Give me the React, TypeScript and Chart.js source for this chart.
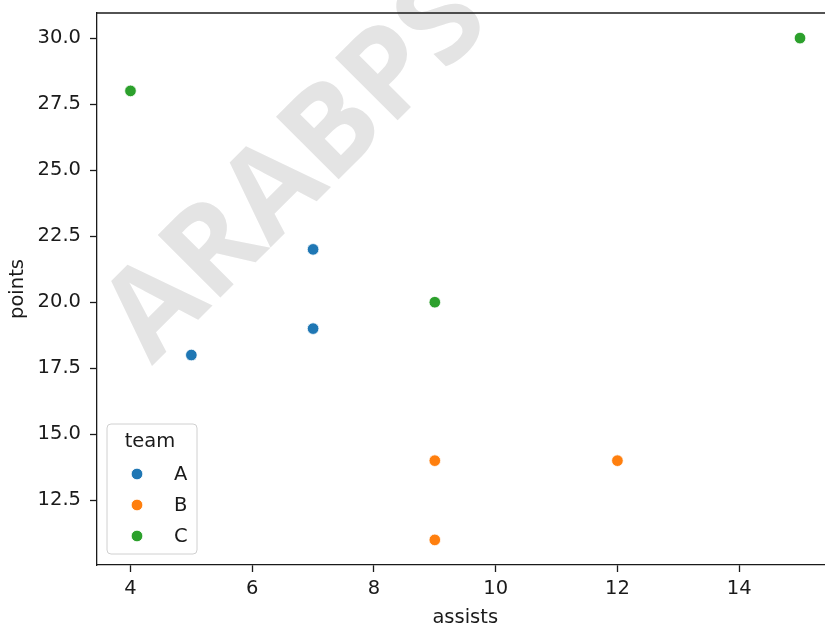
import { useEffect, useRef } from 'react';
import { Chart, registerables } from 'chart.js';

Chart.register(...registerables);

const teams = ['A', 'B', 'C'];
const teamColors = ['#1f77b4', '#ff7f0e', '#2ca02c'];
const assistsA = [5, 7, 7];
const pointsA = [18, 19, 22];
const assistsB = [9, 9, 12];
const pointsB = [14, 11, 14];
const assistsC = [9, 4, 15];
const pointsC = [20, 28, 30];
const xTicks = [4, 6, 8, 10, 12, 14];
const yTicks = [12.5, 15, 17.5, 20, 22.5, 25, 27.5, 30];
const xTitle = 'assists';
const yTitle = 'points';
const legendTitle = 'team';
const watermark = 'ARABPS';

const FONT = 'DejaVu Sans';
const FS = 19.5;
const INK = '#1a1a1a';

export default function App() {
  const ref = useRef<HTMLCanvasElement | null>(null);

  useEffect(() => {
    if (!ref.current) return;
    const xs = [assistsA, assistsB, assistsC];
    const ys = [pointsA, pointsB, pointsC];
    const datasets = teams.map((t, i) => ({
      label: t,
      data: xs[i].map((x, j) => ({ x, y: ys[i][j] })),
      backgroundColor: teamColors[i],
      borderColor: '#ffffff',
      borderWidth: 0.8,
      pointRadius: 5.8,
      pointHoverRadius: 5.8,
    }));

    const watermarkPlugin = {
      id: 'watermark',
      beforeDatasetsDraw(chart: any) {
        const ctx = chart.ctx;
        ctx.save();
        ctx.translate(152, 366);
        ctx.rotate(-Math.PI / 4);
        ctx.font = `bold 124px "Open Sans"`;
        ctx.fillStyle = '#e4e4e4';
        ctx.textAlign = 'left';
        ctx.textBaseline = 'alphabetic';
        ctx.fillText(watermark, 0, 0);
        ctx.restore();
      },
    };

    const framePlugin = {
      id: 'frame',
      afterDraw(chart: any) {
        const ctx = chart.ctx;
        const a = chart.chartArea;
        ctx.save();
        ctx.fillStyle = '#ffffff';
        ctx.fillRect(815, a.top + 2, 40, a.bottom - a.top - 4);
        ctx.strokeStyle = INK;
        ctx.lineWidth = 1.3;
        ctx.beginPath();
        ctx.moveTo(a.left, a.top);
        ctx.lineTo(a.right, a.top);
        ctx.stroke();
        ctx.restore();

        // legend
        const bx = 107, by = 424, bw = 90, bh = 130, r = 4;
        ctx.save();
        ctx.beginPath();
        ctx.moveTo(bx + r, by);
        ctx.arcTo(bx + bw, by, bx + bw, by + bh, r);
        ctx.arcTo(bx + bw, by + bh, bx, by + bh, r);
        ctx.arcTo(bx, by + bh, bx, by, r);
        ctx.arcTo(bx, by, bx + bw, by, r);
        ctx.closePath();
        ctx.fillStyle = 'rgba(255,255,255,0.8)';
        ctx.fill();
        ctx.strokeStyle = '#d0d0d0';
        ctx.lineWidth = 1;
        ctx.stroke();
        ctx.font = `${FS}px "${FONT}"`;
        ctx.fillStyle = INK;
        ctx.textBaseline = 'middle';
        ctx.textAlign = 'center';
        ctx.fillText(legendTitle, 150, 442);
        ctx.textAlign = 'left';
        chart.data.datasets.forEach((ds: any, i: number) => {
          const cy = 474 + i * 31;
          ctx.beginPath();
          ctx.arc(137, cy, 5.8, 0, Math.PI * 2);
          ctx.fillStyle = ds.backgroundColor;
          ctx.fill();
          ctx.strokeStyle = '#ffffff';
          ctx.lineWidth = 0.8;
          ctx.stroke();
          ctx.fillStyle = INK;
          ctx.fillText(ds.label, 174, cy + 1);
        });
        ctx.restore();
      },
    };

    const chart = new Chart(ref.current, {
      type: 'scatter',
      data: { datasets },
      plugins: [watermarkPlugin, framePlugin],
      options: {
        animation: false,
        responsive: false,
        layout: { padding: { top: 13, right: 11.5, left: 0, bottom: 0 } },
        plugins: { legend: { display: false }, tooltip: { enabled: false } },
        scales: {
          x: {
            type: 'linear',
            min: 3.45,
            max: 15.55,
            afterBuildTicks: (s: any) => {
              s.ticks = xTicks.map((v) => ({ value: v }));
            },
            afterFit: (s: any) => {
              s.height = 63;
              s.paddingLeft = 0;
              s.paddingRight = 0;
            },
            ticks: {
              font: { family: FONT, size: FS },
              color: INK,
              padding: 5,
              maxRotation: 0,
              autoSkip: false,
              callback: (v: any) => String(v),
            },
            grid: {
              drawOnChartArea: false,
              drawTicks: true,
              tickLength: 7,
              tickWidth: 1.3,
              tickColor: INK,
            },
            border: { display: true, color: INK, width: 1.3 },
            title: {
              display: true,
              text: xTitle,
              font: { family: FONT, size: FS },
              color: INK,
              padding: { top: -2, bottom: -2 },
            },
          },
          y: {
            type: 'linear',
            min: 10.05,
            max: 30.95,
            afterBuildTicks: (s: any) => {
              s.ticks = yTicks.map((v) => ({ value: v }));
            },
            afterFit: (s: any) => {
              s.width = 97;
              s.paddingTop = 0;
              s.paddingBottom = 0;
            },
            ticks: {
              font: { family: FONT, size: FS },
              color: INK,
              padding: 9,
              autoSkip: false,
              callback: (v: any) => Number(v).toFixed(1),
            },
            grid: {
              drawOnChartArea: false,
              drawTicks: true,
              tickLength: 7,
              tickWidth: 1.3,
              tickColor: INK,
            },
            border: { display: true, color: INK, width: 1.3 },
            title: {
              display: true,
              text: yTitle,
              font: { family: FONT, size: FS },
              color: INK,
              padding: { top: 6, bottom: 0 },
            },
          },
        },
      },
    });
    return () => chart.destroy();
  }, []);

  return (
    <div style={{ position: 'absolute', left: 0, top: 0, width: 825, height: 628, overflow: 'hidden' }}>
      <canvas ref={ref} width={845} height={628} />
    </div>
  );
}
